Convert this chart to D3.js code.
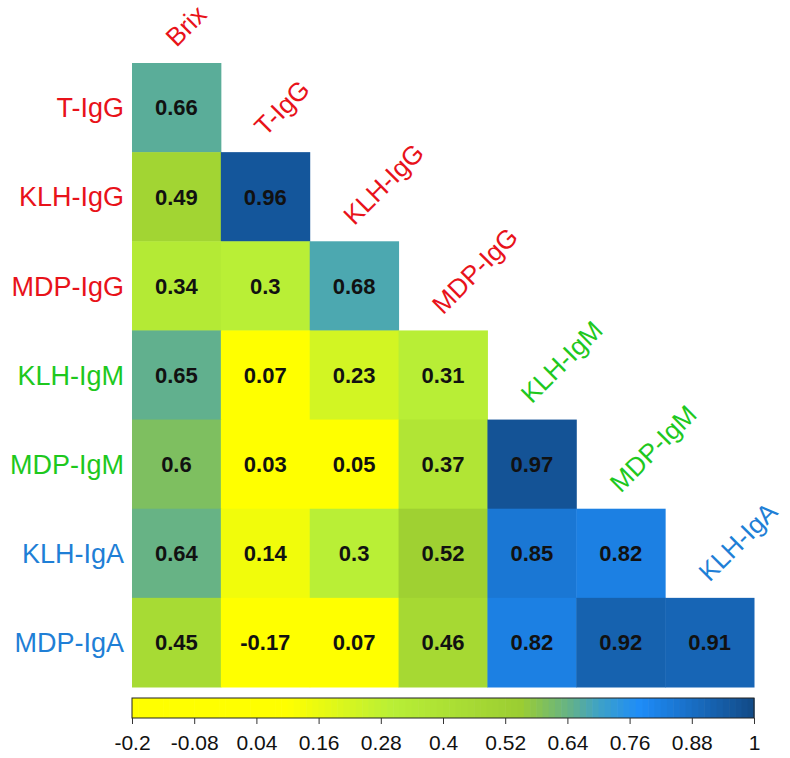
<!DOCTYPE html>
<html>
<head>
<meta charset="utf-8">
<script src="https://cdn.jsdelivr.net/npm/d3@7"></script>
<style>
  body { margin: 0; background: #fff; }
  text { font-family: "Liberation Sans", Arial, sans-serif; }
</style>
</head>
<body>
<div id="wrapper"></div>
<script>
// row / column names of the lower triangle
var rowNames = ["T-IgG", "KLH-IgG", "MDP-IgG", "KLH-IgM", "MDP-IgM", "KLH-IgA", "MDP-IgA"];
var colNames = ["Brix", "T-IgG", "KLH-IgG", "MDP-IgG", "KLH-IgM", "MDP-IgM", "KLH-IgA"];
var rowColors = ["#e8121a", "#e8121a", "#e8121a", "#1ec81e", "#1ec81e", "#1f7fd6", "#1f7fd6"];
var colColors = ["#e8121a", "#e8121a", "#e8121a", "#e8121a", "#1ec81e", "#1ec81e", "#1f7fd6"];

var corrRows = [
  [0.66],
  [0.49, 0.96],
  [0.34, 0.3, 0.68],
  [0.65, 0.07, 0.23, 0.31],
  [0.6, 0.03, 0.05, 0.37, 0.97],
  [0.64, 0.14, 0.3, 0.52, 0.85, 0.82],
  [0.45, -0.17, 0.07, 0.46, 0.82, 0.92, 0.91]
];

var legendTicks = [-0.2, -0.08, 0.04, 0.16, 0.28, 0.4, 0.52, 0.64, 0.76, 0.88, 1];

var width = 790, height = 758;
var dims = { left: 132, right: 754, top: 63, bottom: 687 };

var svg = d3.select("#wrapper").append("svg")
    .attr("width", width)
    .attr("height", height);

var xScale = d3.scaleBand().domain(colNames).range([dims.left, dims.right]);
var yScale = d3.scaleBand().domain(rowNames).range([dims.top, dims.bottom]);

var colorScale = d3.scaleLinear()
    .domain([-0.2, 0.1, 0.3, 0.55, 0.65, 0.7, 0.78, 1])
    .range(["#ffff00", "#ffff00", "#b9ef36", "#9bcd32", "#61b08e", "#3ea2c6", "#1e8cf8", "#124a86"])
    .clamp(true);

var cells = [];
corrRows.forEach(function (row, i) {
  row.forEach(function (v, j) {
    cells.push({ row: rowNames[i], col: colNames[j], value: v });
  });
});

var cellG = svg.append("g");
cellG.selectAll("rect")
  .data(cells)
  .enter()
  .append("rect")
  .attr("x", function (d) { return xScale(d.col); })
  .attr("y", function (d) { return yScale(d.row); })
  .attr("width", xScale.bandwidth() + 0.5)
  .attr("height", yScale.bandwidth() + 0.5)
  .attr("fill", function (d) { return colorScale(d.value); });

cellG.selectAll("text")
  .data(cells)
  .enter()
  .append("text")
  .attr("x", function (d) { return xScale(d.col) + xScale.bandwidth() / 2; })
  .attr("y", function (d) { return yScale(d.row) + yScale.bandwidth() / 2; })
  .attr("dy", "0.36em")
  .attr("text-anchor", "middle")
  .style("font-size", "22px")
  .style("font-weight", "bold")
  .attr("fill", "#111")
  .text(function (d) { return d.value; });

// row labels
svg.append("g").selectAll("text")
  .data(rowNames)
  .enter()
  .append("text")
  .attr("x", dims.left - 8)
  .attr("y", function (d) { return yScale(d) + yScale.bandwidth() / 2; })
  .attr("dy", "0.36em")
  .attr("text-anchor", "end")
  .style("font-size", "27px")
  .attr("fill", function (d, i) { return rowColors[i]; })
  .text(function (d) { return d; });

// column labels, rotated along the diagonal
svg.append("g").selectAll("text")
  .data(colNames)
  .enter()
  .append("text")
  .attr("transform", function (d, i) {
    var x = xScale(d) + xScale.bandwidth() / 2;
    var y = yScale(rowNames[i]) - 15;
    return "translate(" + x + "," + y + ") rotate(-45)";
  })
  .style("font-size", "26px")
  .attr("fill", function (d, i) { return colColors[i]; })
  .text(function (d) { return d; });

// colour legend
var legendY = 698, legendH = 20;
var legendScale = d3.scaleLinear().domain([-0.2, 1]).range([dims.left, dims.right]);
var steps = d3.range(0, 100);
var stepW = (dims.right - dims.left) / steps.length;
svg.append("g").selectAll("rect")
  .data(steps)
  .enter()
  .append("rect")
  .attr("x", function (d) { return dims.left + d * stepW; })
  .attr("y", legendY)
  .attr("width", stepW + 0.6)
  .attr("height", legendH)
  .attr("fill", function (d) { return colorScale(legendScale.invert(dims.left + (d + 0.5) * stepW)); });

svg.append("rect")
  .attr("x", dims.left)
  .attr("y", legendY)
  .attr("width", dims.right - dims.left)
  .attr("height", legendH)
  .attr("fill", "none")
  .attr("stroke", "#222")
  .attr("stroke-width", 1);

var legendAxis = d3.axisBottom(legendScale)
  .tickValues(legendTicks)
  .tickSize(6)
  .tickSizeOuter(0)
  .tickFormat(function (d) { return String(+d.toFixed(2)); });

var axisG = svg.append("g")
  .attr("transform", "translate(0," + (legendY + legendH) + ")")
  .call(legendAxis);
axisG.select(".domain").remove();
axisG.selectAll(".tick line").attr("stroke", "#333");
axisG.selectAll(".tick text")
  .attr("fill", "#111")
  .attr("y", 17)
  .style("font-size", "21px")
  .style("font-family", "'Liberation Sans', Arial, sans-serif");
</script>
</body>
</html>
